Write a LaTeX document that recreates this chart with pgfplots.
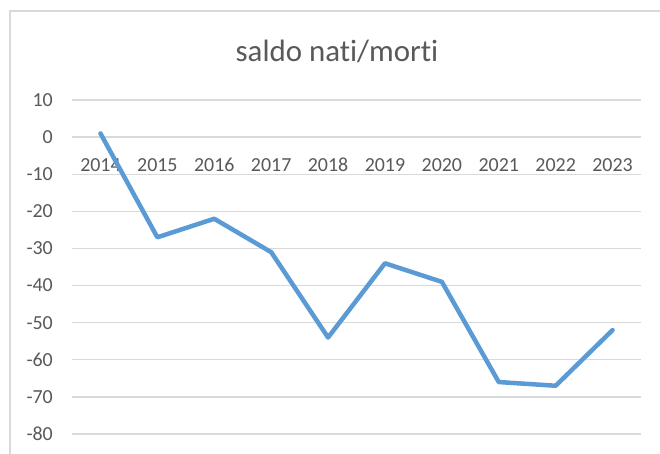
\documentclass[border=0pt]{standalone}
\usepackage{pgfplots}
\pgfplotsset{compat=1.18}
\usepackage{fontspec}
\setmainfont{Carlito}[Ligatures=NoCommon]
\definecolor{txt}{HTML}{595959}
\definecolor{grd}{HTML}{D9D9D9}
\definecolor{ln}{HTML}{5B9BD5}
\definecolor{frm}{HTML}{D9D9D9}
\begin{document}
\begin{tikzpicture}
\useasboundingbox[fill=white] (-72bp,-20bp) rectangle (588bp,434bp);
\draw[frm, line width=1.2bp] (-62bp,-20bp) -- (-62bp,423bp) -- (588bp,423bp);
\begin{axis}[at={(0,0)}, anchor=south west, scale only axis, width=569bp, height=334bp,
 xmin=-0.5, xmax=9.5, ymin=-80, ymax=10, ytick={-80,-70,...,10},
 xtick={0,1,2,3,4,5,6,7,8,9}, xticklabels={2014,2015,2016,2017,2018,2019,2020,2021,2022,2023},
 axis line style={draw=none}, tick style={draw=none}, ymajorgrids, grid style={grd, line width=1.4bp},
 /pgf/number format/assume math mode=true,
 ticklabel style={font=\fontsize{20}{24}\selectfont, text=txt, inner sep=0pt},
 yticklabel style={anchor=east, xshift=-19bp},
 xticklabel style={anchor=north, yshift=276bp},
 clip=false]
\addplot[ln, line width=4.5bp, line join=round, line cap=round] coordinates {(0,1) (1,-27) (2,-22) (3,-31) (4,-54) (5,-34) (6,-39) (7,-66) (8,-67) (9,-52)};
\end{axis}
\node[anchor=base, text=txt, font=\fontsize{31}{36}\selectfont, inner sep=0pt] at (265bp,372bp) {saldo nati/morti};
\end{tikzpicture}
\end{document}
